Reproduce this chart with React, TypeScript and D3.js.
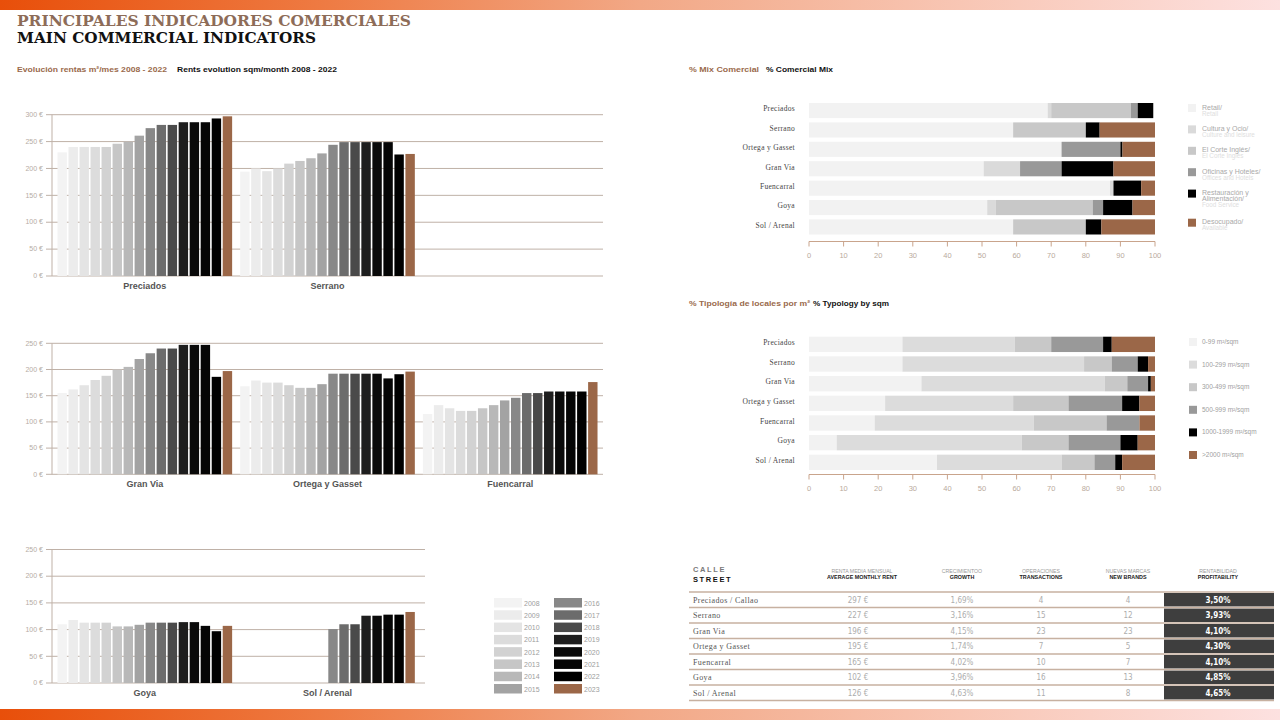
import React from "react";
import * as d3 from "d3";

// --- rents evolution (€/m²/month) ---
const years = ["2008", "2009", "2010", "2011", "2012", "2013", "2014", "2015", "2016", "2017", "2018", "2019", "2020", "2021", "2022", "2023"];
const yearColors = ["#f3f3f3", "#ececec", "#e4e4e4", "#dcdcdc", "#d2d2d2", "#c6c6c6", "#b8b8b8", "#a3a3a3", "#888888", "#6c6c6c", "#4a4a4a", "#1e1e1e", "#0a0a0a", "#050505", "#000000", "#9b6748"];

const preciadosRent = [230, 240, 240, 240, 240, 246, 250, 261, 275, 281, 281, 286, 286, 286, 293, 297];
const serranoRent = [194, 200, 195, 200, 209, 214, 219, 228, 244, 249, 249, 249, 249, 249, 226, 227];
const granViaRent = [155, 162, 170, 180, 188, 200, 205, 220, 231, 240, 240, 247, 247, 247, 186, 197];
const ortegaRent = [168, 179, 175, 175, 170, 165, 165, 172, 192, 192, 192, 192, 192, 183, 191, 196];
const fuencarralRent = [115, 132, 126, 121, 121, 126, 132, 141, 146, 155, 155, 158, 158, 158, 158, 176];
const goyaRent = [110, 118, 113, 113, 113, 106, 106, 109, 113, 113, 113, 114, 114, 107, 97, 107];
const solRent = [null, null, null, null, null, null, null, null, 101, 110, 110, 126, 126, 128, 128, 133];

// --- % commercial mix ---
const streets = ["Preciados", "Serrano", "Ortega y Gasset", "Gran Via", "Fuencarral", "Goya", "Sol / Arenal"];
const mixKeys = ["retail", "cultura", "eci", "oficinas", "restauracion", "desocupado"];
const mixColors = ["#f2f2f2", "#dadada", "#c8c8c8", "#999999", "#000000", "#9b6748"];
const mixLabelsEs = [["Retail/"], ["Cultura y Ocio/"], ["El Corte Inglés/"], ["Oficinas y Hoteles/"], ["Restauración y", "Alimentación/"], ["Desocupado/"]];
const mixLabelsEn = ["Retail", "Culture and leisure", "El Corte Inglés", "Offices and Hotels", "Food Service", "Available"];
const preciadosMix = [69, 1, 23, 2, 4.5, 0];
const serranoMix = [59, 0, 21, 0, 4, 16];
const ortegaMix = [73, 0, 0, 17, 0.6, 9.4];
const granViaMix = [50.5, 10.5, 0, 12, 15, 12];
const fuencarralMix = [87, 1, 0, 0, 8, 4];
const goyaMix = [51.5, 2.5, 28, 3, 8.5, 6.5];
const solMix = [59, 0, 21, 0, 4.5, 15.5];

// --- % typology by sqm ---
const typoStreets = ["Preciados", "Serrano", "Gran Via", "Ortega y Gasset", "Fuencarral", "Goya", "Sol / Arenal"];
const typoKeys = ["0-99 m²/sqm", "100-299 m²/sqm", "300-499 m²/sqm", "500-999 m²/sqm", "1000-1999 m²/sqm", ">2000 m²/sqm"];
const typoColors = ["#f2f2f2", "#dcdcdc", "#c8c8c8", "#999999", "#000000", "#9b6748"];
const preciadosTypo = [27, 32.5, 10.5, 15, 2.5, 12.5];
const serranoTypo = [27, 52.5, 8, 7.5, 3, 2];
const granViaTypo = [32.5, 53, 6.5, 6, 0.8, 1.2];
const ortegaTypo = [22, 37, 16, 15.5, 5, 4.5];
const fuencarralTypo = [19, 46, 21, 9.5, 0, 4.5];
const goyaTypo = [8, 53.5, 13.5, 15, 5, 5];
const solTypo = [37, 36, 9.5, 6, 2, 9.5];

// --- table ---
const tableStreets = ["Preciados / Callao", "Serrano", "Gran Via", "Ortega y Gasset", "Fuencarral", "Goya", "Sol / Arenal"];
const tableRent = ["297 €", "227 €", "196 €", "195 €", "165 €", "102 €", "126 €"];
const tableGrowth = ["1,69%", "3,16%", "4,15%", "1,74%", "4,02%", "3,96%", "4,63%"];
const tableTransactions = ["4", "15", "23", "7", "10", "16", "11"];
const tableBrands = ["4", "12", "23", "5", "7", "13", "8"];
const tableProfit = ["3,50%", "3,93%", "4,10%", "4,30%", "4,10%", "4,85%", "4,65%"];
const tableHeadEs = ["RENTA MEDIA MENSUAL", "CRECIMIENTOO", "OPERACIONES", "NUEVAS MARCAS", "RENTABILIDAD"];
const tableHeadEn = ["AVERAGE MONTHLY RENT", "GROWTH", "TRANSACTIONS", "NEW BRANDS", "PROFITABILITY"];

const SANS = "'Liberation Sans', Arial, sans-serif";
const SERIF = "'Liberation Serif', 'Times New Roman', serif";
const TITLE = "'DejaVu Serif', serif";
const COND = "'DejaVu Sans Condensed', 'DejaVu Sans', sans-serif";
const BROWN = "#9a6a4c";
const GRID = "#bfb1a7";

function RentPanel({ names, series, max, top, bottom, right }) {
  const y = d3.scaleLinear().domain([0, max]).range([bottom, top]);
  const gx = d3.scaleBand().domain(["0", "1", "2"]).range([52, 603]).paddingInner(0.044).paddingOuter(0.03);
  const bx = d3.scaleBand().domain(years).range([0, gx.bandwidth()]).paddingInner(0.146);
  const ticks = d3.range(0, max + 1, 50);
  return (
    <g>
      {ticks.map((t) => (
        <g key={t}>
          <line x1={46} x2={right} y1={y(t)} y2={y(t)} stroke={GRID} strokeWidth={1} />
          <text x={43} y={y(t)} dy="0.32em" textAnchor="end" fontSize={7} fill="#b5aca5" fontFamily={SANS}>
            {t} €
          </text>
        </g>
      ))}
      <line x1={52} x2={52} y1={top} y2={bottom} stroke={GRID} />
      {names.map((n, i) => {
        const x0 = gx(String(i));
        return (
          <g key={n}>
            {series[i].map((v, j) =>
              v == null ? null : (
                <rect key={j} x={x0 + bx(years[j])} y={y(v)} width={bx.bandwidth()} height={y(0) - y(v)} fill={yearColors[j]} />
              )
            )}
            <text x={x0 + gx.bandwidth() / 2} y={bottom + 13} textAnchor="middle" fontSize={9} fontWeight="bold" fill="#555" fontFamily={SANS}>
              {n}
            </text>
          </g>
        );
      })}
    </g>
  );
}

function StackChart({ rows, keys, values, colors, top, bottom, axisY }) {
  const x = d3.scaleLinear().domain([0, 100]).range([809, 1155]);
  const y = d3.scaleBand().domain(rows).range([top, bottom]).paddingInner(0.22);
  const table = rows.map((r, i) => {
    const o: any = { row: r };
    keys.forEach((k, j) => (o[k] = values[i][j]));
    return o;
  });
  const layers = d3.stack().keys(keys)(table);
  return (
    <g>
      {layers.map((layer, li) => (
        <g key={li} fill={colors[li]}>
          {layer.map((d, ri) =>
            d[1] - d[0] <= 0 ? null : (
              <rect key={ri} x={x(d[0])} y={y(rows[ri])} width={x(d[1]) - x(d[0])} height={y.bandwidth()} />
            )
          )}
        </g>
      ))}
      {rows.map((r) => (
        <text key={r} x={795} y={y(r) + y.bandwidth() / 2} dy="0.1em" textAnchor="end" fontSize={7.5} fill="#444" fontFamily={SERIF} letterSpacing={0.3}>
          {r}
        </text>
      ))}
      <line x1={x(0)} x2={x(100)} y1={axisY} y2={axisY} stroke="#c9a48c" />
      {x.ticks(10).map((t) => (
        <g key={t}>
          <line x1={x(t)} x2={x(t)} y1={axisY} y2={axisY + 5} stroke="#c9a48c" />
          <text x={x(t)} y={axisY + 16} textAnchor="middle" fontSize={7.5} fill="#b9aa9c" fontFamily={SANS}>
            {t}
          </text>
        </g>
      ))}
    </g>
  );
}

function MixLegend() {
  let yy = 104;
  return (
    <g fontFamily={SANS}>
      {mixKeys.map((k, i) => {
        const top = yy;
        const lines = mixLabelsEs[i];
        yy += 6 + 7.7 * (lines.length + 1);
        return (
          <g key={k}>
            <rect x={1188} y={top} width={8} height={8} fill={mixColors[i]} />
            {lines.map((l, li) => (
              <text key={li} x={1202} y={top + 5.5 + li * 6} fontSize={7} fill="#a9a9a9">
                {l}
              </text>
            ))}
            <text x={1202} y={top + 5.5 + lines.length * 6} fontSize={6.3} fill="#dedede">
              {mixLabelsEn[i]}
            </text>
          </g>
        );
      })}
    </g>
  );
}

function TypoLegend() {
  const ly = d3.scaleLinear().domain([0, 5]).range([338, 451]);
  return (
    <g fontFamily={SANS}>
      {typoKeys.map((k, i) => (
        <g key={k}>
          <rect x={1189} y={ly(i)} width={8} height={8} fill={typoColors[i]} />
          <text x={1202} y={ly(i) + 6} fontSize={6.5} fill="#a0a0a0">
            {k}
          </text>
        </g>
      ))}
    </g>
  );
}

function YearLegend() {
  const ly = d3.scaleLinear().domain([0, 7]).range([598, 684]);
  return (
    <g fontFamily={SANS}>
      {years.map((yr, i) => {
        const col = Math.floor(i / 8);
        const row = i % 8;
        const sx = col === 0 ? 494 : 554;
        return (
          <g key={yr}>
            <rect x={sx} y={ly(row)} width={28} height={9.5} fill={yearColors[i]} />
            <text x={sx + 30} y={ly(row) + 7.5} fontSize={7} fill="#9d9d9d">
              {yr}
            </text>
          </g>
        );
      })}
    </g>
  );
}

function InfoTable() {
  const ry = d3.scaleBand().domain(tableStreets).range([592, 700.5]);
  const cols = [858, 962, 1041, 1128, 1218];
  const cells = [tableRent, tableGrowth, tableTransactions, tableBrands];
  return (
    <g>
      <text x={693} y={572} fontSize={7.5} fontWeight="bold" fill="#7a7a7a" letterSpacing={1.6} fontFamily={SANS}>CALLE</text>
      <text x={693} y={582} fontSize={7.5} fontWeight="bold" fill="#111" letterSpacing={1.6} fontFamily={SANS}>STREET</text>
      {tableHeadEs.map((h, i) => (
        <g key={h} fontFamily={SANS} textAnchor="middle">
          <text x={cols[i] + (i === 0 ? 4 : 0)} y={573} fontSize={5.2} fill="#9a9a9a">{h}</text>
          <text x={cols[i] + (i === 0 ? 4 : 0)} y={579} fontSize={5.4} fontWeight="bold" fill="#222">{tableHeadEn[i]}</text>
        </g>
      ))}
      {tableStreets.map((s, i) => {
        const y0 = ry(s);
        const cy = y0 + ry.bandwidth() / 2;
        return (
          <g key={s}>
            <rect x={1164} y={y0 + 1} width={110} height={ry.bandwidth() - 2} fill="#3e3e3e" />
            <text x={693} y={cy} dy="0.35em" fontSize={8} fill="#555" fontFamily={SERIF} letterSpacing={0.4}>{s}</text>
            {cells.map((c, ci) => (
              <text key={ci} x={cols[ci]} y={cy} dy="0.35em" textAnchor="middle" fontSize={8} fill="#adadad" fontFamily={COND}>
                {c[i]}
              </text>
            ))}
            <text x={cols[4]} y={cy} dy="0.35em" textAnchor="middle" fontSize={8} fontWeight="bold" fill="#fff" fontFamily={COND}>
              {tableProfit[i]}
            </text>
          </g>
        );
      })}
      {d3.range(tableStreets.length + 1).map((i) => {
        const yy = 592 + i * ry.step();
        return <line key={i} x1={689} x2={1274} y1={yy} y2={yy} stroke="#c7b1a1" strokeWidth={1.4} />;
      })}
    </g>
  );
}

export default function App() {
  return (
    <svg width={1280} height={720} style={{ position: "absolute", left: 0, top: 0, background: "#fff" }}>
      <defs>
        <linearGradient id="band" x1="0" x2="1" y1="0" y2="0">
          <stop offset="0" stopColor="#e84f0a" />
          <stop offset="0.25" stopColor="#ee7a42" />
          <stop offset="0.5" stopColor="#f2a886" />
          <stop offset="0.75" stopColor="#f8c6b4" />
          <stop offset="1" stopColor="#fde1e0" />
        </linearGradient>
      </defs>
      <rect x={0} y={0} width={1280} height={10} fill="url(#band)" />
      <rect x={0} y={709} width={1280} height={11} fill="url(#band)" />

      <text x={17} y={26} fontFamily={TITLE} fontWeight="bold" fontSize={15} fill="#8d6c58" textLength={394} lengthAdjust="spacingAndGlyphs">
        PRINCIPALES INDICADORES COMERCIALES
      </text>
      <text x={17} y={43} fontFamily={TITLE} fontWeight="bold" fontSize={15} fill="#111" textLength={299} lengthAdjust="spacingAndGlyphs">
        MAIN COMMERCIAL INDICATORS
      </text>

      <g fontFamily={SANS} fontWeight="bold" fontSize={7.5}>
        <text x={17} y={72} fill={BROWN} textLength={150} lengthAdjust="spacingAndGlyphs">Evolución rentas m²/mes 2008 - 2022</text>
        <text x={177} y={72} fill="#111" textLength={160} lengthAdjust="spacingAndGlyphs">Rents evolution sqm/month 2008 - 2022</text>
        <text x={689} y={72} fill={BROWN} textLength={70} lengthAdjust="spacingAndGlyphs">% Mix Comercial</text>
        <text x={766} y={72} fill="#111" textLength={67} lengthAdjust="spacingAndGlyphs">% Comercial Mix</text>
        <text x={689} y={306} fill={BROWN} textLength={121} lengthAdjust="spacingAndGlyphs">% Tipología de locales por m²</text>
        <text x={813} y={306} fill="#111" textLength={76} lengthAdjust="spacingAndGlyphs">% Typology by sqm</text>
      </g>

      <RentPanel names={["Preciados", "Serrano"]} series={[preciadosRent, serranoRent]} max={300} top={114.7} bottom={276} right={603} />
      <RentPanel names={["Gran Via", "Ortega y Gasset", "Fuencarral"]} series={[granViaRent, ortegaRent, fuencarralRent]} max={250} top={343.3} bottom={474.3} right={603} />
      <RentPanel names={["Goya", "Sol / Arenal"]} series={[goyaRent, solRent]} max={250} top={549.5} bottom={683} right={425} />
      <YearLegend />

      <StackChart
        rows={streets}
        keys={mixKeys}
        values={[preciadosMix, serranoMix, ortegaMix, granViaMix, fuencarralMix, goyaMix, solMix]}
        colors={mixColors}
        top={103}
        bottom={234.5}
        axisY={241.5}
      />
      <MixLegend />

      <StackChart
        rows={typoStreets}
        keys={typoKeys}
        values={[preciadosTypo, serranoTypo, granViaTypo, ortegaTypo, fuencarralTypo, goyaTypo, solTypo]}
        colors={typoColors}
        top={336.7}
        bottom={470}
        axisY={474.5}
      />
      <TypoLegend />

      <InfoTable />
    </svg>
  );
}
